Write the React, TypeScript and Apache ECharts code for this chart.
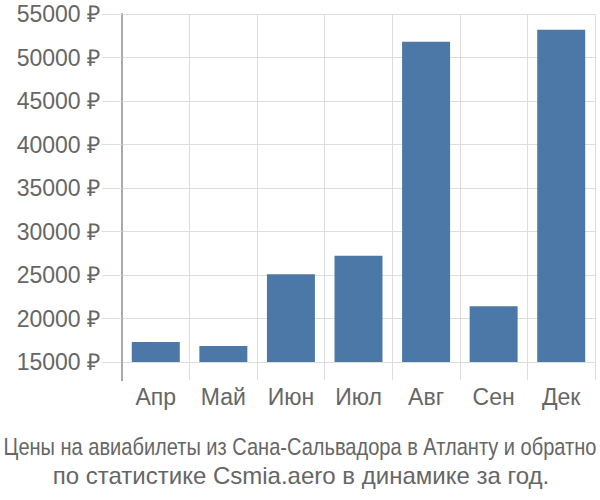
import React, { useEffect, useRef } from "react";
import * as echarts from "echarts";

const categories = ["Апр", "Май", "Июн", "Июл", "Авг", "Сен", "Дек"];
const prices = [17300, 16850, 25100, 27200, 51800, 21400, 53200];
const yTicks = { min: 15000, max: 55000, interval: 5000 };
const titleLines = [
  "Цены на авиабилеты из Сана-Сальвадора в Атланту и обратно",
  "по статистике Csmia.aero в динамике за год.",
];

const FONT = "Liberation Sans, Arial, sans-serif";

export default function App() {
  const ref = useRef<HTMLDivElement>(null);
  useEffect(() => {
    const chart = echarts.init(ref.current!, null, { renderer: "svg" });
    chart.setOption({
      animation: false,
      grid: { left: 122, right: 5, top: 14, bottom: 138 },
      xAxis: {
        type: "category",
        data: categories,
        axisLine: { show: true, lineStyle: { color: "#dddddd", width: 1 } },
        axisTick: { show: true, length: 18, lineStyle: { color: "#dddddd" } },
        splitLine: { show: true, lineStyle: { color: "#dddddd" } },
        axisLabel: {
          fontSize: 23,
          color: "#666666",
          margin: 23,
          fontFamily: FONT,
        },
      },
      yAxis: {
        type: "value",
        min: yTicks.min,
        max: yTicks.max,
        interval: yTicks.interval,
        axisLine: { show: true, lineStyle: { color: "#aaaaaa", width: 2 } },
        axisTick: { show: true, length: 20, lineStyle: { color: "#dddddd" } },
        splitLine: { show: true, lineStyle: { color: "#dddddd" } },
        axisLabel: {
          fontSize: 23,
          color: "#666666",
          margin: 22,
          fontFamily: FONT,
          formatter: (v: number) => `${v} ₽`,
        },
      },
      series: [
        {
          type: "bar",
          data: prices,
          barCategoryGap: "29%",
          itemStyle: { color: "#4c78a8" },
        },
      ],
      graphic: [
        {
          type: "line",
          shape: { x1: 122, y1: 362, x2: 122, y2: 381 },
          style: { stroke: "#aaaaaa", lineWidth: 2 },
          z: 100,
        },
        {
          type: "text",
          x: 300,
          y: 447,
          scaleX: 0.835,
          style: {
            x: 0,
            y: 0,
            text: titleLines[0],
            fontSize: 24,
            fill: "#666666",
            align: "center",
            verticalAlign: "middle",
            fontFamily: FONT,
          },
        },
        {
          type: "text",
          x: 301,
          y: 475,
          style: {
            x: 0,
            y: 0,
            text: titleLines[1],
            fontSize: 24,
            fill: "#666666",
            align: "center",
            verticalAlign: "middle",
            fontFamily: FONT,
          },
        },
      ],
    });
    return () => chart.dispose();
  }, []);
  return (
    <div
      ref={ref}
      style={{ position: "absolute", left: 0, top: 0, width: 600, height: 500 }}
    />
  );
}
